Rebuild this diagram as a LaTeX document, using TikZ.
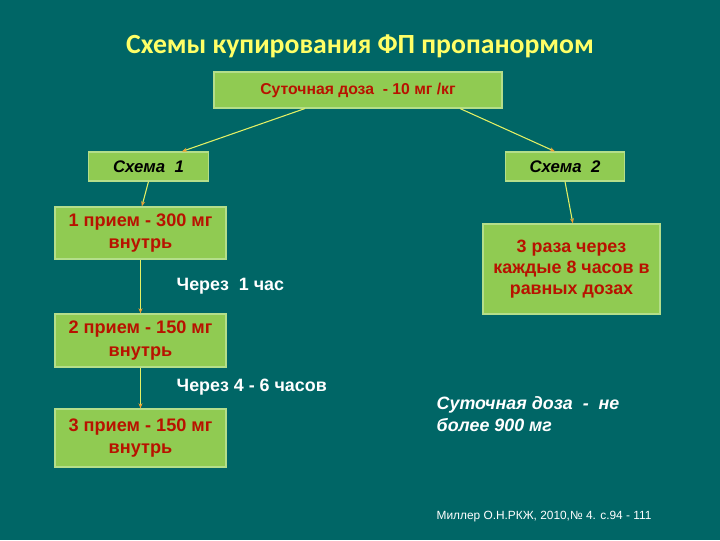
\documentclass[tikz,border=0pt]{standalone}
\usepackage{fontspec}
\setmainfont{Liberation Sans}
\newfontfamily\titlefont{Carlito}
\usetikzlibrary{arrows.meta,positioning}

\definecolor{fundo}{HTML}{006666}
\definecolor{caixa}{HTML}{90CB52}
\definecolor{borda}{HTML}{B4DE8A}
\definecolor{texto}{HTML}{B81200}
\definecolor{linha}{HTML}{E4F064}
\definecolor{ponta}{HTML}{F0A030}
\definecolor{titulo}{HTML}{FFFF66}

\begin{document}
\begin{tikzpicture}[
    x=0.75pt, y=-0.75pt,
    blok/.style={
        rectangle,
        draw=borda,
        line width=0.8pt,
        fill=caixa,
        align=center,
        inner sep=2pt,
        text=texto,
        font=\bfseries
    },
    shema/.style={
        blok,
        minimum width=89.5pt,
        minimum height=21.75pt,
        text=black,
        font=\fontsize{12.6}{14}\selectfont\bfseries\itshape
    },
    priem/.style={
        blok,
        minimum width=128.25pt,
        font=\fontsize{13.6}{17}\selectfont\bfseries
    },
    podpis/.style={
        anchor=west,
        text=white,
        align=left,
        font=\fontsize{13.4}{16}\selectfont\bfseries
    },
    strelka/.style={-{Stealth[length=4pt,width=3pt,color=ponta]}, draw=linha, line width=0.8pt}
]
\useasboundingbox (0,0) rectangle (720,540);
\fill[fundo] (0,0) rectangle (720,540);

% ЗАГОЛОВОК
\node[text=titulo, font=\titlefont\fontsize{20.8}{23}\selectfont\bfseries] (titul) at (360,46) {Схемы купирования ФП пропанормом};

% УРОВЕНЬ 1: СУТОЧНАЯ ДОЗА
\node[blok, minimum width=216pt, minimum height=27pt, font=\fontsize{11.8}{13}\selectfont\bfseries] (doza) at (358,90) {Суточная доза~ - 10 мг /кг};

% УРОВЕНЬ 2: СХЕМЫ
\node[shema] (shema1) at (148.5,166.5) {Схема~ 1};
\node[shema] (shema2) at (565,166.5) {Схема~ 2};

% УРОВЕНЬ 3: ПРИЕМЫ (СЛЕВА)
\node[priem, minimum height=39pt] (priem1) at (140.5,233) {1 прием - 300 мг\\внутрь};
\node[priem, minimum height=39.75pt] (priem2) at (140.5,340.5) {2 прием - 150 мг\\внутрь};
\node[priem, minimum height=43.5pt] (priem3) at (140.5,438) {3 прием - 150 мг\\внутрь};

% УРОВЕНЬ 3: СПРАВА
\node[blok, minimum width=132.75pt, minimum height=67.5pt, font=\fontsize{13.4}{16}\selectfont\bfseries] (triraza) at (571.5,269) {3 раза через\\каждые 8 часов в\\равных дозах};

% ПОДПИСИ
\node[podpis] (cherez1) at (172,286) {Через~ 1 час};
\node[podpis] (cherez2) at (172,387) {Через 4 - 6 часов};
\node[podpis, font=\fontsize{13.4}{16.5}\selectfont\bfseries\itshape] (nebolee) at (432,414) {Суточная доза~ -~ не\\более 900 мг};
\node[podpis, font=\fontsize{8.9}{10}\selectfont] (istochnik) at (432,517) {Миллер О.Н.РКЖ, 2010,№ 4. с.94 - 111};

% --- СТРЕЛКИ ---
\draw[strelka] ([xshift=-39.75pt]doza.south) -- ([xshift=25pt]shema1.north);
\draw[strelka] ([xshift=76.5pt]doza.south) -- ([xshift=-7.5pt]shema2.north);
\draw[strelka] (shema1.south) -- ([xshift=1pt]priem1.north);
\draw[strelka] (priem1) -- (priem2);
\draw[strelka] (priem2) -- (priem3);
\draw[strelka] (shema2.south) -- ([xshift=1pt]triraza.north);

\end{tikzpicture}
\end{document}
